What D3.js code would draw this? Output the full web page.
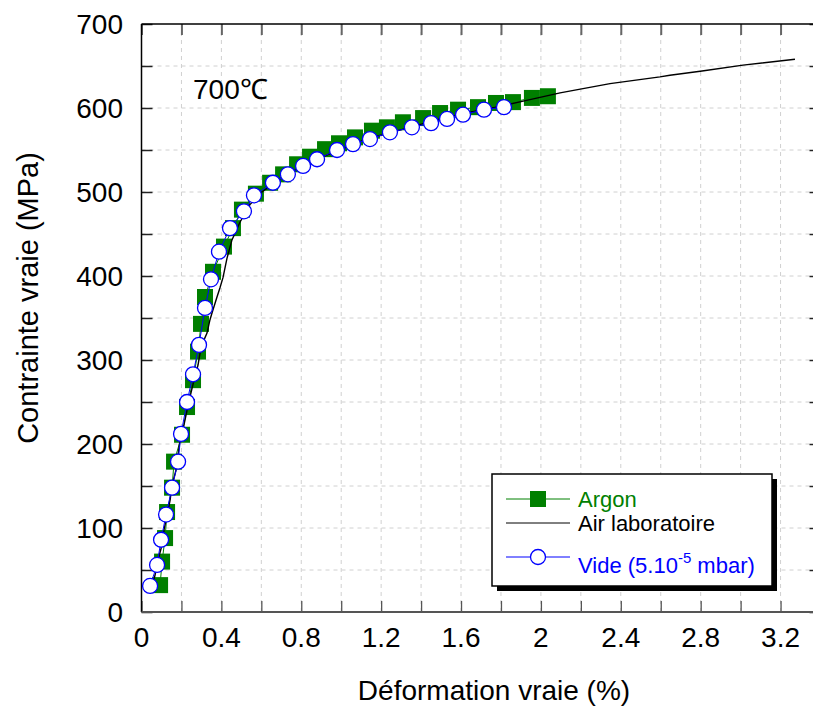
<!DOCTYPE html>
<html><head><meta charset="utf-8">
<script src="https://cdn.jsdelivr.net/npm/d3@7"></script>
<style>body{margin:0;background:#fff}svg text{font-family:"Liberation Sans",Arial,sans-serif}</style>
</head><body><svg id="c" width="813" height="707"></svg>
<script>
// Argon (green squares)
const argonX = [0.093,0.103,0.118,0.128,0.153,0.163,0.203,0.228,0.258,0.283,0.298,0.318,0.358,0.413,0.458,0.503,0.573,0.644,0.709,0.779,0.844,0.919,0.989,1.069,1.154,1.229,1.309,1.410,1.495,1.585,1.685,1.775,1.860,1.955,2.035];
const argonY = [32,60,88,119,148,179,211,244,276,310,343,375,405,435,457,479,498,511,521,533,542,551,558,565,573,577,583,588,594,598,601,606,607,612,614];
// Air laboratoire (black line)
const airX = [0.045,0.068,0.083,0.103,0.113,0.128,0.143,0.153,0.173,0.183,0.193,0.213,0.228,0.243,0.263,0.283,0.293,0.313,0.328,0.343,0.353,0.378,0.393,0.408,0.428,0.453,0.493,0.543,0.603,0.684,0.769,0.869,0.969,1.094,1.219,1.345,1.495,1.645,1.795,1.945,2.096,2.346,2.596,2.646,2.807,3.012,3.272];
const airY = [25,44,62,80,98,115,133,151,169,187,205,223,240,256,276,294,308,324,332,348,356,375,386,398,421,443,464,485,500,514,526,538,548,560,569,577,587,595,602,610,618,629,637,639,644,651,658];
// Vide 5.10^-5 mbar (blue open circles)
const videX = [0.043,0.078,0.098,0.123,0.153,0.183,0.198,0.228,0.258,0.288,0.318,0.348,0.388,0.443,0.513,0.563,0.658,0.733,0.809,0.879,0.979,1.059,1.144,1.244,1.354,1.450,1.530,1.610,1.715,1.815];
const videY = [31,56,86,116,148,179,212,250,283,318,362,396,429,457,477,496,511,521,531,539,550,557,563,571,577,582,587,592,598,601];

const xTicks = [0,0.4,0.8,1.2,1.6,2,2.4,2.8,3.2];
const yTicks = [0,100,200,300,400,500,600,700];
const xTitle = "Déformation vraie (%)";
const yTitle = "Contrainte vraie (MPa)";
const tempLabel = "700℃";

const svg = d3.select("#c");
const L = 141.5, R = 820.5, T = 24, B = 612;
const x = d3.scaleLinear().domain([0,3.4]).range([L,R]);
const y = d3.scaleLinear().domain([0,700]).range([B,T]);

// grid
const gx = d3.range(0.2,3.4,0.2), gy = d3.range(50,700,50);
svg.append("g").selectAll("line").data(gx).join("line")
  .attr("x1",d=>x(d)).attr("x2",d=>x(d)).attr("y1",T).attr("y2",B)
  .attr("stroke","#d0d0d0").attr("stroke-width",1).attr("stroke-dasharray","4,4");
svg.append("g").selectAll("line").data(gy).join("line")
  .attr("y1",d=>y(d)).attr("y2",d=>y(d)).attr("x1",L).attr("x2",R)
  .attr("stroke","#d0d0d0").attr("stroke-width",1).attr("stroke-dasharray","4,4");

// axes (ticks inward)
const minorX = d3.range(0,3.41,0.2), minorY = d3.range(0,701,50);
svg.append("g").attr("transform",`translate(0,${B})`)
  .call(d3.axisBottom(x).tickValues(minorX).tickSize(-11).tickFormat(""))
  .call(g=>{g.select(".domain").remove();g.selectAll("line").attr("stroke","#555").attr("stroke-width",1.3);});
svg.append("g").attr("transform",`translate(0,${T})`)
  .call(d3.axisTop(x).tickValues(minorX).tickSize(-11).tickFormat(""))
  .call(g=>{g.select(".domain").remove();g.selectAll("line").attr("stroke","#666").attr("stroke-width",2);});
svg.append("g").attr("transform",`translate(${L},0)`)
  .call(d3.axisLeft(y).tickValues(minorY).tickSize(-11).tickFormat(""))
  .call(g=>{g.select(".domain").remove();g.selectAll("line").attr("stroke","#222").attr("stroke-width",1.5);});
svg.append("g").attr("transform",`translate(${R},0)`)
  .call(d3.axisRight(y).tickValues(minorY).tickSize(-11).tickFormat(""))
  .call(g=>{g.select(".domain").remove();g.selectAll("line").attr("stroke","#222").attr("stroke-width",1.5);});
// frame
svg.append("line").attr("x1",L).attr("x2",L).attr("y1",T).attr("y2",B).attr("stroke","#000").attr("stroke-width",1.5);
svg.append("line").attr("x1",L).attr("x2",R).attr("y1",T).attr("y2",T).attr("stroke","#000").attr("stroke-width",1.5);
svg.append("line").attr("x1",L).attr("x2",R).attr("y1",B).attr("y2",B).attr("stroke","#555").attr("stroke-width",2);
svg.append("line").attr("x1",R).attr("x2",R).attr("y1",T).attr("y2",B).attr("stroke","#000").attr("stroke-width",1.5);

// tick labels
svg.append("g").selectAll("text").data(xTicks).join("text")
  .attr("x",d=>x(d)).attr("y",647).attr("text-anchor","middle").attr("font-size",28)
  .text(d=>d3.format("~g")(d));
svg.append("g").selectAll("text").data(yTicks).join("text")
  .attr("x",123).attr("y",d=>y(d)+10).attr("text-anchor","end").attr("font-size",28)
  .text(d=>d);
// titles
svg.append("text").attr("x",494).attr("y",700).attr("text-anchor","middle").attr("font-size",28).text(xTitle);
svg.append("text").attr("transform","translate(38,298) rotate(-90)").attr("text-anchor","middle").attr("font-size",29).text(yTitle);
svg.append("text").attr("x",193).attr("y",99).attr("font-size",28).text(tempLabel);

// data
const argon = argonX.map((v,i)=>[v,argonY[i]]);
const air = airX.map((v,i)=>[v,airY[i]]);
const vide = videX.map((v,i)=>[v,videY[i]]);
const line = d3.line().x(d=>x(d[0])).y(d=>y(d[1]));
svg.append("path").datum(argon).attr("d",line).attr("fill","none").attr("stroke","#008000").attr("stroke-width",1);
svg.append("g").selectAll("rect").data(argon).join("rect")
  .attr("x",d=>x(d[0])-8).attr("y",d=>y(d[1])-8).attr("width",16).attr("height",16).attr("fill","#007f00");
svg.append("path").datum(air).attr("d",line).attr("fill","none").attr("stroke","#000").attr("stroke-width",1.4);
svg.append("path").datum(vide).attr("d",line).attr("fill","none").attr("stroke","#0000ff").attr("stroke-width",1);
svg.append("g").selectAll("circle").data(vide).join("circle")
  .attr("cx",d=>x(d[0])).attr("cy",d=>y(d[1])).attr("r",7.5).attr("fill","#fff").attr("stroke","#0000ff").attr("stroke-width",1.3);

// legend
const lg = svg.append("g");
lg.append("rect").attr("x",497).attr("y",479).attr("width",280).attr("height",112).attr("fill","#000");
lg.append("rect").attr("x",492).attr("y",474).attr("width",280).attr("height",112).attr("fill","#fff").attr("stroke","#000").attr("stroke-width",1.5);
lg.append("line").attr("x1",506).attr("x2",570).attr("y1",499).attr("y2",499).attr("stroke","#008000").attr("stroke-width",1);
lg.append("rect").attr("x",530).attr("y",491).attr("width",16).attr("height",16).attr("fill","#007f00");
lg.append("text").attr("x",578).attr("y",507).attr("font-size",22).attr("fill","#008000").text("Argon");
lg.append("line").attr("x1",506).attr("x2",570).attr("y1",523).attr("y2",523).attr("stroke","#000").attr("stroke-width",1);
lg.append("text").attr("x",578).attr("y",531).attr("font-size",22).attr("fill","#000").text("Air laboratoire");
lg.append("line").attr("x1",506).attr("x2",570).attr("y1",557).attr("y2",557).attr("stroke","#0000ff").attr("stroke-width",1);
lg.append("circle").attr("cx",538).attr("cy",557).attr("r",7.5).attr("fill","#fff").attr("stroke","#0000ff").attr("stroke-width",1.3);
const vt = lg.append("text").attr("x",578).attr("y",573).attr("font-size",22).attr("fill","#0000ff");
vt.append("tspan").text("Vide (5.10");
vt.append("tspan").attr("dy",-10).attr("font-size",15).text("-5");
vt.append("tspan").attr("dy",10).text(" mbar)");
</script></body></html>
